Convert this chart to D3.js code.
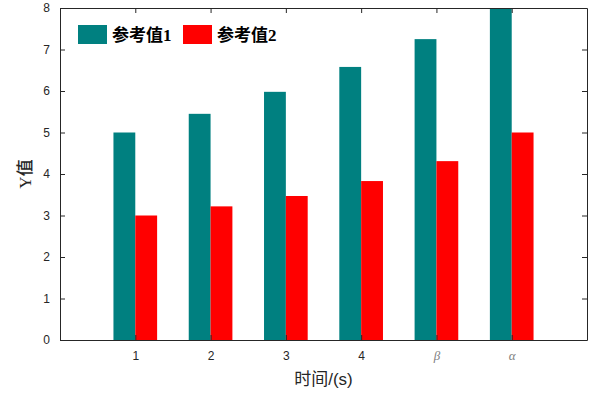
<!DOCTYPE html>
<html lang="zh">
<head>
  <meta charset="utf-8">
  <script src="https://d3js.org/d3.v7.min.js"></script>
  <style>
    body { margin: 0; padding: 0; background: #fff; }
    svg { display: block; }
    .tick text { fill: #262626; font-family: "Liberation Sans", Arial, sans-serif; font-size: 12px; }
    .domain, .tick line { stroke: #262626; }
  </style>
</head>
<body>
  <svg id="chart"></svg>
  <script>
    const categories = ["1", "2", "3", "4", "β", "α"];
    const series1 = [5.0, 5.45, 5.98, 6.58, 7.25, 8.0];
    const series2 = [3.0, 3.22, 3.47, 3.83, 4.31, 5.0];
    const seriesNames = ["参考值1", "参考值2"];
    const colors = ["#008080", "#ff0000"];
    const yTicks = [0, 1, 2, 3, 4, 5, 6, 7, 8];

    const width = 600, height = 400;
    const plot = { left: 60, right: 587, top: 8, bottom: 340 };

    const svg = d3.select("#chart").attr("width", width).attr("height", height);

    const x = d3.scaleLinear().domain([0, categories.length + 1]).range([plot.left, plot.right]);
    const y = d3.scaleLinear().domain([0, 8]).range([plot.bottom, plot.top]);
    const barW = 0.29;

    // bars
    const g = svg.append("g");
    [series1, series2].forEach((vals, s) => {
      g.selectAll(".bar" + s)
        .data(vals)
        .enter().append("rect")
        .attr("class", "bar" + s)
        .attr("x", (d, i) => x(i + 1 + (s === 0 ? -barW : 0)))
        .attr("width", x(barW) - x(0))
        .attr("y", d => y(d))
        .attr("height", d => y(0) - y(d))
        .attr("fill", colors[s]);
    });

    // axes (ticks inward, mirrored on top/right)
    const xAxis = svg.append("g")
      .attr("transform", `translate(0,${plot.bottom})`)
      .call(d3.axisBottom(x).tickValues(d3.range(1, categories.length + 1))
        .tickFormat(d => categories[d - 1]).tickSizeInner(-5).tickSizeOuter(0).tickPadding(11));
    xAxis.selectAll(".tick text")
      .filter(d => d > 4)
      .style("font-family", "'Liberation Serif', serif")
      .style("font-style", "italic")
      .style("font-size", "13px")
      .style("fill", "#808080");

    svg.append("g")
      .attr("transform", `translate(0,${plot.top})`)
      .call(d3.axisTop(x).tickValues(d3.range(1, categories.length + 1))
        .tickFormat("").tickSizeInner(-5).tickSizeOuter(0));

    svg.append("g")
      .attr("transform", `translate(${plot.left},0)`)
      .call(d3.axisLeft(y).tickValues(yTicks).tickSizeInner(-5).tickSizeOuter(0).tickPadding(10));

    svg.append("g")
      .attr("transform", `translate(${plot.right},0)`)
      .call(d3.axisRight(y).tickValues(yTicks).tickFormat("").tickSizeInner(-5).tickSizeOuter(0));

    // axis titles
    svg.append("text")
      .attr("x", (plot.left + plot.right) / 2)
      .attr("y", 385)
      .attr("text-anchor", "middle")
      .attr("fill", "#262626")
      .style("font-family", "'Liberation Sans', 'Noto Sans CJK SC', sans-serif")
      .style("font-size", "17px")
      .text("时间/(s)");

    svg.append("text")
      .attr("transform", `translate(31,${(plot.top + plot.bottom) / 2}) rotate(-90)`)
      .attr("text-anchor", "middle")
      .attr("fill", "#262626")
      .style("font-family", "'Liberation Serif', 'Noto Sans CJK SC', serif")
      .style("font-weight", "500")
      .style("font-size", "17px")
      .text("Y值");

    // legend
    const legend = svg.append("g");
    const legendX = [78, 183];
    seriesNames.forEach((name, i) => {
      legend.append("rect")
        .attr("x", legendX[i]).attr("y", 25)
        .attr("width", 29).attr("height", 19)
        .attr("fill", colors[i]);
      legend.append("text")
        .attr("x", legendX[i] + 34).attr("y", 41)
        .attr("fill", "#000")
        .style("font-family", "'Liberation Serif', 'Noto Sans CJK SC', serif")
        .style("font-weight", "bold")
        .style("font-size", "17px")
        .text(name);
    });
  </script>
</body>
</html>
